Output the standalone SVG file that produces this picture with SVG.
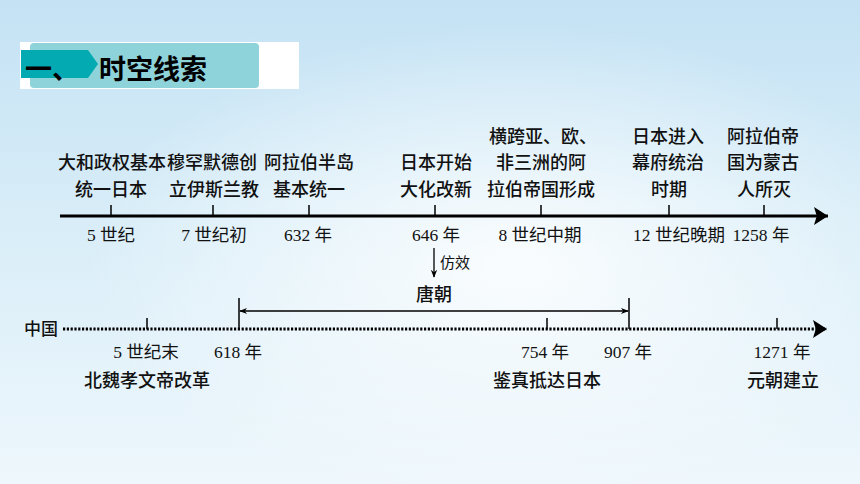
<svg xmlns="http://www.w3.org/2000/svg" width="860" height="484" viewBox="0 0 860 484">
<defs>
<linearGradient id="bg" x1="0" y1="0" x2="0" y2="1">
<stop offset="0" stop-color="#c4e2f4"/>
<stop offset="0.45" stop-color="#d8edf8"/>
<stop offset="1" stop-color="#eef7fc"/>
</linearGradient>
<radialGradient id="glow" cx="0.6" cy="0.55" r="0.5">
<stop offset="0" stop-color="#ffffff" stop-opacity="0.85"/>
<stop offset="1" stop-color="#ffffff" stop-opacity="0"/>
</radialGradient>
<marker id="ah" viewBox="0 0 10 10" refX="9" refY="5" markerWidth="8" markerHeight="8" orient="auto-start-reverse" markerUnits="userSpaceOnUse">
<path d="M0,1 L10,5 L0,9 L3,5 Z" fill="#000"/>
</marker>
<marker id="big" viewBox="0 0 10 10" refX="10" refY="5" markerWidth="14" markerHeight="18" orient="auto" markerUnits="userSpaceOnUse" preserveAspectRatio="none">
<path d="M0,0 L10,5 L0,10 L2,5 Z" fill="#000"/>
</marker>
<style>
.ev{font-family:"Noto Sans CJK SC","Noto Sans",sans-serif;font-size:18px;font-weight:500;fill:#111;text-anchor:middle}
.dt{font-family:"Liberation Serif","Noto Sans CJK SC",serif;font-size:17.5px;fill:#111;text-anchor:middle}
.tk{stroke:#000;stroke-width:1.5}
.hd{font-family:"Noto Sans CJK SC","Noto Sans",sans-serif;font-size:27px;font-weight:bold;fill:#000}
</style>
</defs>
<rect width="860" height="484" fill="url(#bg)"/>
<rect width="860" height="484" fill="url(#glow)"/>

<g id="header">
<rect x="20" y="42" width="279" height="47" fill="#ffffff"/>
<rect x="30" y="43" width="229" height="45" rx="4" fill="#8fd3da"/>
<path d="M21,50 L88,50 L98,64 L88,78 L21,78 Z" fill="#03aab2"/>
<text class="hd" x="25" y="79">一、</text>
<text class="hd" x="99" y="79">时空线索</text>
</g>

<g id="connectors">
<line x1="60" y1="216" x2="828" y2="216" stroke="#000" stroke-width="3" marker-end="url(#big)"/>
<line x1="63" y1="329" x2="827" y2="329" stroke="#000" stroke-width="3" stroke-dasharray="2.2 1.6" marker-end="url(#big)"/>
<line x1="434" y1="248" x2="434" y2="277" stroke="#000" stroke-width="1.3" marker-end="url(#ah)"/>
<line x1="240" y1="311" x2="628" y2="311" stroke="#000" stroke-width="1.5" marker-start="url(#ah)" marker-end="url(#ah)"/>
<line class="tk" x1="239" y1="298" x2="239" y2="329"/>
<line class="tk" x1="629" y1="298" x2="629" y2="329"/>
<line class="tk" x1="111" y1="205" x2="111" y2="216"/>
<line class="tk" x1="213" y1="205" x2="213" y2="216"/>
<line class="tk" x1="309" y1="205" x2="309" y2="216"/>
<line class="tk" x1="435" y1="205" x2="435" y2="216"/>
<line class="tk" x1="541" y1="205" x2="541" y2="216"/>
<line class="tk" x1="669" y1="205" x2="669" y2="216"/>
<line class="tk" x1="764" y1="205" x2="764" y2="216"/>
<line class="tk" x1="147" y1="318" x2="147" y2="329"/>
<line class="tk" x1="547" y1="318" x2="547" y2="329"/>
<line class="tk" x1="777" y1="318" x2="777" y2="329"/>
</g>

<g id="n-5c">
<text class="ev" x="112" y="169">大和政权基本</text>
<text class="ev" x="111" y="196">统一日本</text>
<text class="dt" x="111" y="241">5 世纪</text>
</g>
<g id="n-7c">
<text class="ev" x="212" y="169">穆罕默德创</text>
<text class="ev" x="214" y="196">立伊斯兰教</text>
<text class="dt" x="214" y="241">7 世纪初</text>
</g>
<g id="n-632">
<text class="ev" x="309" y="169">阿拉伯半岛</text>
<text class="ev" x="309" y="196">基本统一</text>
<text class="dt" x="308" y="241">632 年</text>
</g>
<g id="n-646">
<text class="ev" x="436" y="169">日本开始</text>
<text class="ev" x="436" y="196">大化改新</text>
<text class="dt" x="436" y="241">646 年</text>
</g>
<g id="n-8c">
<text class="ev" x="543" y="143">横跨亚、欧、</text>
<text class="ev" x="541" y="169">非三洲的阿</text>
<text class="ev" x="541" y="196">拉伯帝国形成</text>
<text class="dt" x="540" y="241">8 世纪中期</text>
</g>
<g id="n-12c">
<text class="ev" x="668" y="143">日本进入</text>
<text class="ev" x="668" y="169">幕府统治</text>
<text class="ev" x="669" y="196">时期</text>
<text class="dt" x="679" y="241">12 世纪晚期</text>
</g>
<g id="n-1258">
<text class="ev" x="763" y="143">阿拉伯帝</text>
<text class="ev" x="763" y="169">国为蒙古</text>
<text class="ev" x="764" y="196">人所灭</text>
<text class="dt" x="761" y="241">1258 年</text>
</g>
<g id="n-fangxiao">
<text class="dt" x="440" y="268" style="text-anchor:start;font-size:15px">仿效</text>
</g>
<g id="n-tang">
<text class="ev" x="434" y="301">唐朝</text>
</g>
<g id="n-china">
<text class="ev" x="41" y="335" style="font-size:17px">中国</text>
</g>
<g id="n-5cm">
<text class="dt" x="146" y="358">5 世纪末</text>
<text class="ev" x="147" y="387">北魏孝文帝改革</text>
</g>
<g id="n-618">
<text class="dt" x="238" y="358">618 年</text>
</g>
<g id="n-754">
<text class="dt" x="545" y="358">754 年</text>
<text class="ev" x="547" y="387">鉴真抵达日本</text>
</g>
<g id="n-907">
<text class="dt" x="628" y="358">907 年</text>
</g>
<g id="n-1271">
<text class="dt" x="782" y="358">1271 年</text>
<text class="ev" x="783" y="387">元朝建立</text>
</g>
</svg>
